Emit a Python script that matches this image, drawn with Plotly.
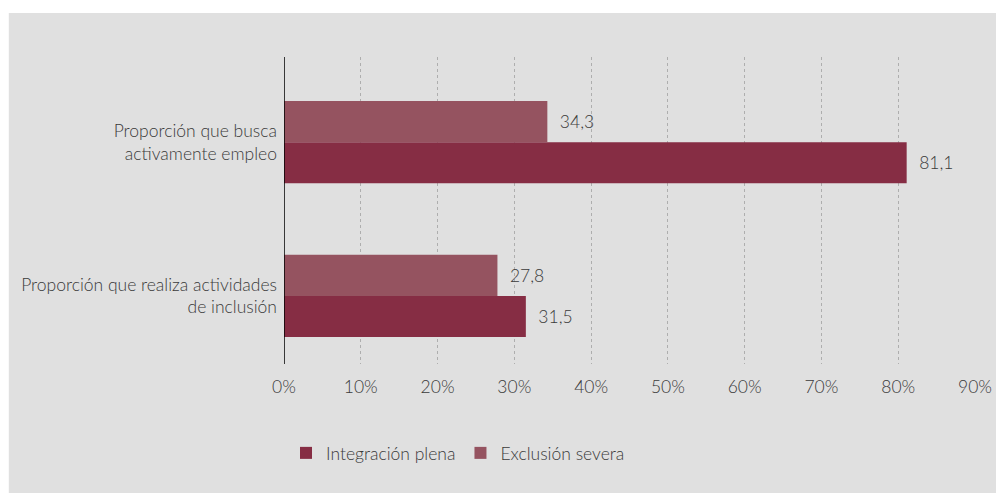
import plotly.graph_objects as go

categories = ["Proporción que realiza actividades<br>de inclusión", "Proporción que busca<br>activamente empleo"]
integracion = [31.5, 81.1]
exclusion = [27.8, 34.3]
series_names = ["Integración plena", "Exclusión severa"]
tick_vals = [0, 10, 20, 30, 40, 50, 60, 70, 80, 90]
tick_text = ["0%", "10%", "20%", "30%", "40%", "50%", "60%", "70%", "80%", "90%"]

col_int = "#862D44"
col_exc = "#955360"
txt = "#3A3A3A"
FONT = "Lato"
FS = 17.5

def fmt(v):
    return "  " + f"{v:.1f}".replace(".", ",")

fig = go.Figure()
fig.add_trace(go.Bar(y=categories, x=integracion, orientation="h", name=series_names[0],
                     marker=dict(color=col_int, line=dict(width=0)),
                     text=[fmt(v) for v in integracion], textposition="outside",
                     textfont=dict(color=txt, size=FS, family=FONT, weight=300), cliponaxis=False))
fig.add_trace(go.Bar(y=categories, x=exclusion, orientation="h", name=series_names[1],
                     marker=dict(color=col_exc, line=dict(width=0)),
                     text=[fmt(v) for v in exclusion], textposition="outside",
                     textfont=dict(color=txt, size=FS, family=FONT, weight=300), cliponaxis=False))

# page has an 8px body margin, so the figure is drawn 8px in from top/left
OFF = 8
W, H = 1004 - OFF, 493 - OFF
ml, mr, mt, mb = 284 - OFF, 27, 57 - OFF, 129
pw, ph = W - ml - mr, H - mt - mb

fig.update_layout(
    width=W, height=H,
    margin=dict(l=ml, r=mr, t=mt, b=mb),
    paper_bgcolor="white",
    plot_bgcolor="rgba(0,0,0,0)",
    barmode="group", bargap=0.466, bargroupgap=0,
    font=dict(family=FONT, color=txt, size=FS, weight=300),
    showlegend=True,
    legend=dict(orientation="h", x=(286 - OFF - ml) / pw, xanchor="left",
                y=(H - mb - (453 - OFF)) / ph, yanchor="middle",
                font=dict(size=FS, color=txt, family=FONT, weight=300),
                bgcolor="rgba(0,0,0,0)", itemwidth=30, traceorder="normal"),
    shapes=[dict(type="rect", xref="paper", yref="paper", layer="below",
                 x0=-ml / pw, x1=(W - ml) / pw,
                 y0=-mb / ph, y1=(H - mb - (13 - OFF)) / ph,
                 fillcolor="#E0E0E0", line=dict(width=0))],
    xaxis=dict(range=[0, 90], tickvals=tick_vals, ticktext=tick_text,
               showgrid=True, gridcolor="#AEAEAE", griddash="dot", gridwidth=1,
               zeroline=False, showline=False, ticks="", ticklabelstandoff=10,
               tickfont=dict(size=FS, color=txt, family=FONT, weight=300)),
    yaxis=dict(range=[-0.443, 1.554], showgrid=False, zeroline=False, showline=False, ticks="",
               ticklabelstandoff=6,
               tickfont=dict(size=FS, color=txt, family=FONT, weight=300)),
)
fig.add_shape(type="line", xref="x", yref="paper", x0=0, x1=0, y0=0, y1=1,
              line=dict(color="#000000", width=1.5))

fig.write_html("out.html")
